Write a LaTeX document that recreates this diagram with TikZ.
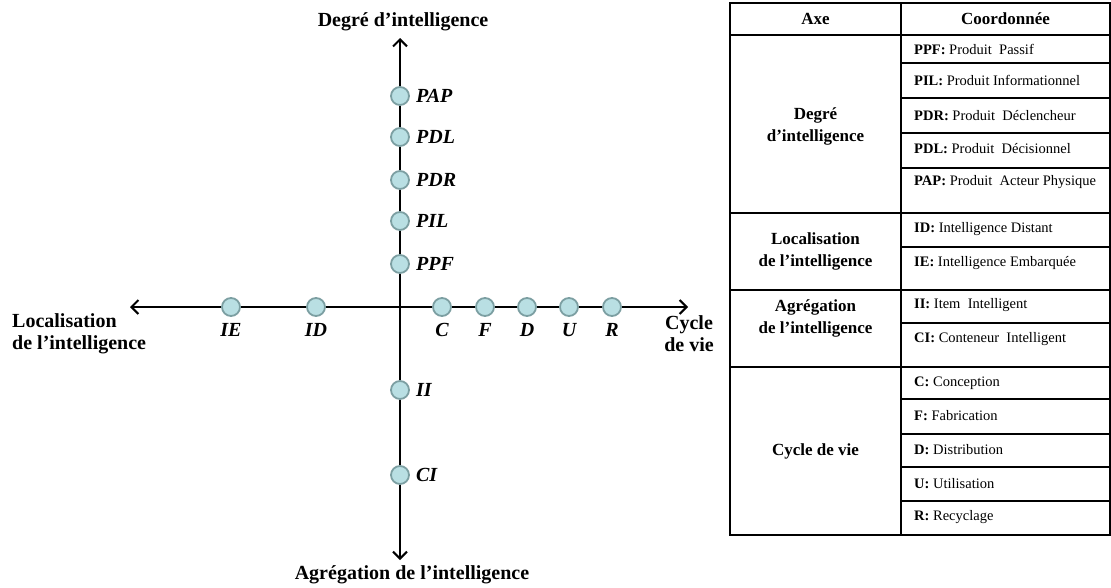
\documentclass[tikz,border=0pt]{standalone}
\usepackage{fontspec}
\setmainfont{Liberation Serif}
\usetikzlibrary{arrows.meta,positioning}

\definecolor{dotfill}{HTML}{B9DFE3}
\definecolor{dotline}{HTML}{7C9FA2}

\tikzset{
    barb/.tip={Straight Barb[length=7pt,width=14pt,line width=2pt]},
    axis/.style={line width=2pt, barb-barb},
    dot/.style={circle, fill=dotfill, draw=dotline, line width=1.8pt, minimum size=18pt, inner sep=0pt},
    coordlab/.style={inner sep=0pt, font=\fontsize{20}{22}\selectfont\bfseries\itshape},
    axislab/.style={inner sep=0pt, font=\fontsize{20}{22}\selectfont\bfseries},
    tablab/.style={inner sep=0pt, align=center, font=\fontsize{17}{22}\selectfont\bfseries},
    cell/.style={inner sep=0pt, anchor=west, font=\fontsize{14.5}{16}\selectfont},
    thickrule/.style={line width=2.2pt},
    thinrule/.style={line width=1.5pt}
}

\newcommand{\gap}{\hspace{0.5em}}

\begin{document}
\begin{tikzpicture}[x=1pt, y=-1pt]

    \useasboundingbox (0,0) rectangle (1111,587);

    \def\X{400}
    \def\Y{307}

    % axis
    \coordinate (top) at (\X,38);
    \coordinate (bottom) at (\X,560);
    \coordinate (left) at (130,\Y);
    \coordinate (right) at (688,\Y);
    \draw[axis] (bottom) -- (top);
    \draw[axis] (left) -- (right);

    \node[axislab] (degre) at (403,22) {Degré d’intelligence};
    \node[axislab] (agreg) at (412,575) {Agrégation de l’intelligence};
    \node[axislab, align=left, anchor=west] (local) at (12,334)
        {Localisation\\de l’intelligence};
    \node[axislab, align=center] (cycle) at (689,334) {Cycle\\de vie};

    % coordinates on the vertical axis
    \foreach \name/\y in {
        PPF/264,
        PIL/221,
        PDR/180,
        PDL/137,
        PAP/96,
        II/390,
        CI/475
    }{
        \node[dot] (\name) at (\X,\y) {};
        \node[coordlab, right=6pt of \name] (\name-lab) {\name};
    }

    % coordinates on the horizontal axis
    \foreach \name/\x in {
        IE/231,
        ID/316,
        C/442,
        F/485,
        D/527,
        U/569,
        R/612
    }{
        \node[dot] (\name) at (\x,\Y) {};
        \node[coordlab, below=6pt of \name] (\name-lab) {\name};
    }

    % table
    \def\L{730}
    \def\M{901}
    \def\R{1110}
    \draw[thickrule] (\L,3) rectangle (\R,535);
    \draw[thickrule] (\M,3) -- (\M,535);
    \foreach \y in {35, 213, 290, 367}{
        \draw[thickrule] (\L,\y) -- (\R,\y);
    }
    \foreach \y in {63, 98, 133, 168, 247, 323, 399, 434, 467, 501}{
        \draw[thinrule] (\M,\y) -- (\R,\y);
    }

    \node[tablab] (axe) at (815.5,19) {Axe};
    \node[tablab] (coord) at (1005.5,19) {Coordonnée};
    \node[tablab] (tdeg) at (815.5,126) {Degré\\d’intelligence};
    \node[tablab] (tloc) at (815.5,251) {Localisation\\de l’intelligence};
    \node[tablab] (tagr) at (815.5,318) {Agrégation\\de l’intelligence};
    \node[tablab] (tcyc) at (815.5,451) {Cycle de vie};

    \foreach \abbr/\full/\y in {
        PPF/Produit\gap Passif/49,
        PIL/Produit Informationnel/80,
        PDR/Produit\gap Déclencheur/116,
        PDL/Produit\gap Décisionnel/149,
        PAP/Produit\gap Acteur Physique/182,
        ID/Intelligence Distant/229,
        IE/Intelligence Embarquée/263,
        II/Item\gap Intelligent/305,
        CI/Conteneur\gap Intelligent/339,
        C/Conception/383,
        F/Fabrication/416,
        D/Distribution/450,
        U/Utilisation/484,
        R/Recyclage/517
    }{
        \node[cell] (t-\abbr) at (914,\y) {\textbf{\abbr:} \full};
    }

\end{tikzpicture}
\end{document}
